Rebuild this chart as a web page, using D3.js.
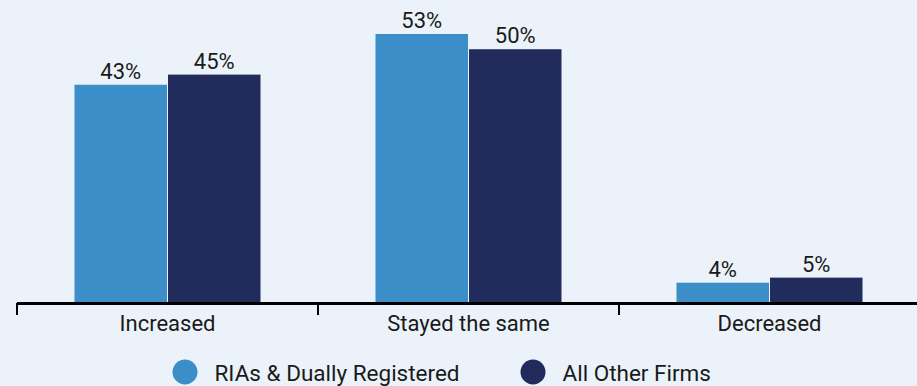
<!DOCTYPE html>
<html>
<head>
<meta charset="utf-8">
<script src="https://cdn.jsdelivr.net/npm/d3@7"></script>
<style>
  html, body { margin: 0; padding: 0; background: #ebf2f9; }
  svg { display: block; font-family: Roboto, "Noto Sans", sans-serif; }
</style>
</head>
<body>
<svg id="chart" width="917" height="386"></svg>
<script>
// Change in activity, by firm type (share of respondents)
const categories = ["Increased", "Stayed the same", "Decreased"];
const seriesNames = ["RIAs & Dually Registered", "All Other Firms"];
const riaValues = [43, 53, 4];
const otherValues = [45, 50, 5];
const seriesColors = ["#3b8ec7", "#212b5c"];

const W = 917, H = 386;
const svg = d3.select("#chart");
svg.append("rect").attr("width", W).attr("height", H).attr("fill", "#ebf2f9");

const x0 = d3.scaleBand().domain(categories).range([17, 920]).paddingInner(0).paddingOuter(0);
const x1 = d3.scaleBand().domain(seriesNames).range([0, 186]).paddingInner(0.011);
const y = d3.scaleLinear().domain([0, 53]).range([303, 34]);

const rows = categories.map((c, i) => ({ cat: c, vals: [riaValues[i], otherValues[i]] }));

const groups = svg.selectAll("g.grp").data(rows).join("g")
  .attr("class", "grp")
  .attr("transform", d => `translate(${x0(d.cat) + x0.bandwidth() / 2 - 93},0)`);

groups.selectAll("rect").data(d => d.vals.map((v, j) => ({ v, s: seriesNames[j], j })))
  .join("rect")
  .attr("x", d => x1(d.s))
  .attr("y", d => y(d.v))
  .attr("width", x1.bandwidth())
  .attr("height", d => y(0) - y(d.v))
  .attr("fill", d => seriesColors[d.j]);

groups.selectAll("text.val").data(d => d.vals.map((v, j) => ({ v, s: seriesNames[j] })))
  .join("text")
  .attr("class", "val")
  .attr("x", d => x1(d.s) + x1.bandwidth() / 2)
  .attr("y", d => y(d.v) - 6)
  .attr("text-anchor", "middle")
  .attr("font-size", 22)
  .attr("fill", "#1a1a1a")
  .text(d => d.v + "%");

// Category axis
const axis = svg.append("g").attr("transform", "translate(0,303.5)")
  .call(d3.axisBottom(x0).tickSize(0).tickPadding(0));
axis.select(".domain").remove();
axis.selectAll(".tick text")
  .attr("dy", null).attr("y", 27.5)
  .attr("font-size", 22).attr("fill", "#1a1a1a").attr("font-family", "Roboto, sans-serif");

svg.append("line").attr("x1", 17).attr("x2", W).attr("y1", 303.5).attr("y2", 303.5)
  .attr("stroke", "#000").attr("stroke-width", 3);
const edges = categories.map(c => x0(c)).concat([x0(categories[2]) + x0.bandwidth()]);
svg.selectAll("line.tk").data(edges).join("line")
  .attr("class", "tk")
  .attr("x1", d => d).attr("x2", d => d)
  .attr("y1", 303).attr("y2", 315)
  .attr("stroke", "#000").attr("stroke-width", 2);

// Legend
const legendX = [185, 533];
const lg = svg.selectAll("g.lg").data(seriesNames).join("g")
  .attr("class", "lg")
  .attr("transform", (d, i) => `translate(${legendX[i]},372)`);
lg.append("circle").attr("r", 12.5).attr("fill", (d, i) => seriesColors[i]);
lg.append("text").attr("x", 29.5).attr("y", 9).attr("font-size", 22.5).attr("fill", "#1a1a1a").text(d => d);
</script>
</body>
</html>
